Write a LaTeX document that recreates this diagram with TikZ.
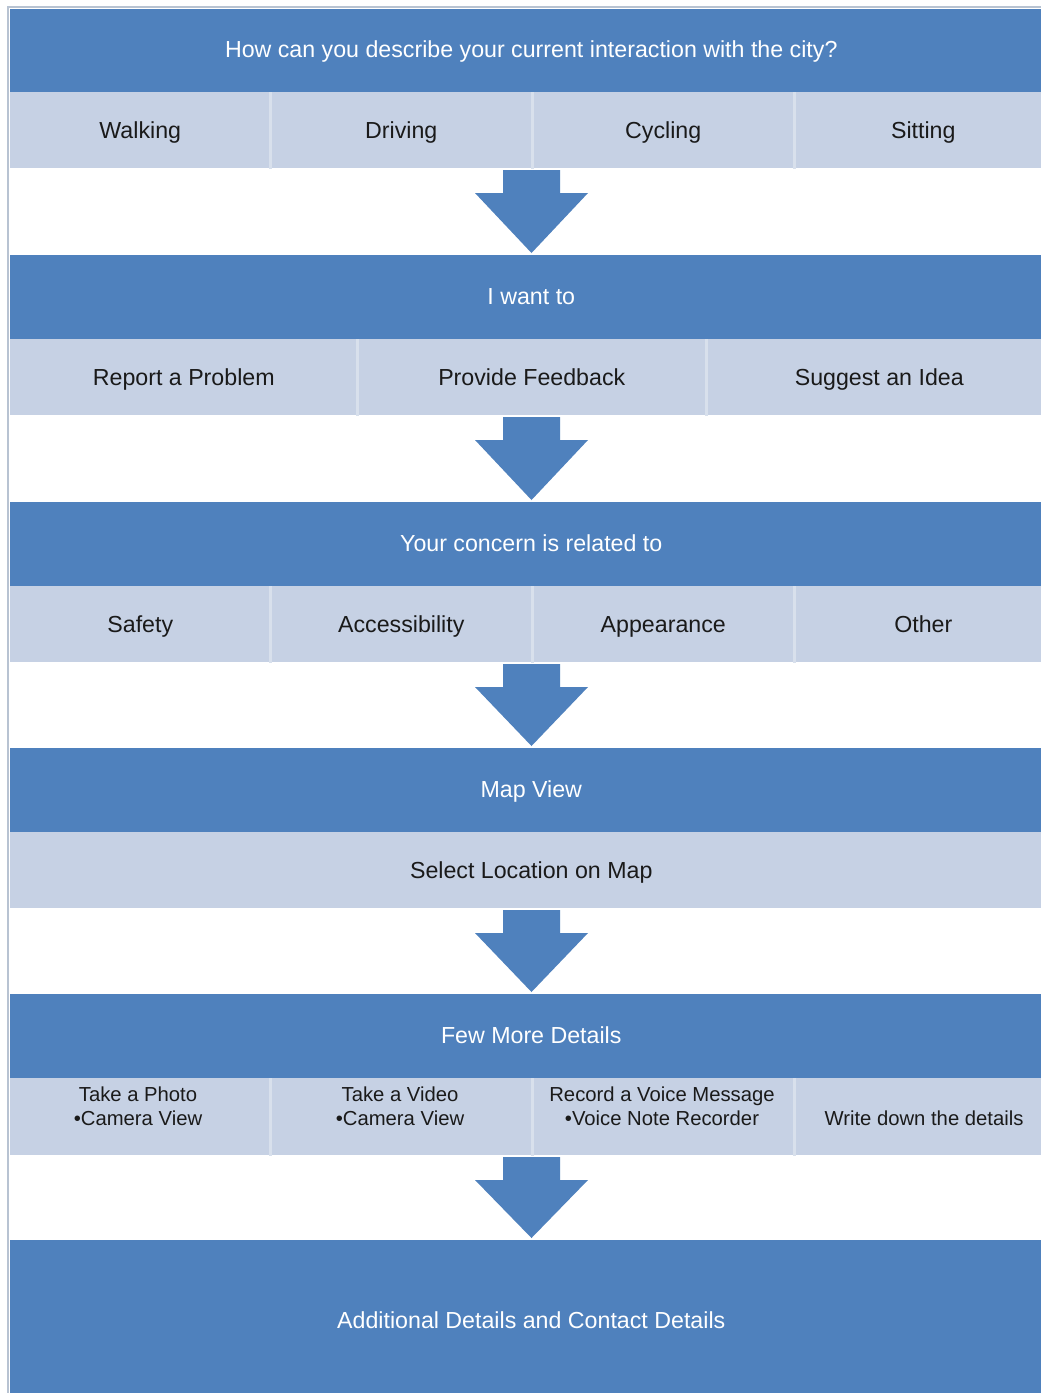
\documentclass[tikz,border=0pt]{standalone}
\usepackage{fontspec}
\setmainfont{Liberation Sans}
\definecolor{bandblue}{HTML}{4F81BD}
\definecolor{celllight}{HTML}{C6D1E4}
\definecolor{sepcol}{HTML}{D8E0EC}
\definecolor{framecol}{HTML}{B8C3D2}
\definecolor{celltext}{HTML}{1A1A1A}
\begin{document}
\begin{tikzpicture}[x=0.75pt,y=-0.75pt,
  band/.style={fill=bandblue, text=white, inner sep=0pt, anchor=north west,
    text height=14pt, text depth=3.6pt,
    minimum width=1042*0.75pt, font=\fontsize{17.4}{21}\selectfont},
  cell/.style={fill=celllight, text=celltext, inner sep=0pt, anchor=north west,
    text height=16.5pt, text depth=3.6pt,
    minimum height=76*0.75pt, font=\fontsize{17.4}{21}\selectfont},
  small/.style={text=celltext, inner sep=0pt, align=center, font=\fontsize{15.2}{18}\selectfont},
  sep/.style={draw=sepcol, line width=2pt},
  flowarrow/.style={fill=bandblue}
]
\useasboundingbox (0,0) rectangle (1041,1393);
\clip (0,0) rectangle (1041,1393);
\fill[white] (0,0) rectangle (1041,1393);

% frame
\draw[framecol, line width=1.5pt] (8,1400) -- (8,7) -- (1045,7);

% ---- Block 1
\node[band, minimum height=83*0.75pt] (b1) at (10,9) {How can you describe your current interaction with the city?};
\node[cell, minimum width=260*0.75pt] (c11) at (10,92) {Walking};
\node[cell, minimum width=262*0.75pt] (c12) at (270,92) {Driving};
\node[cell, minimum width=262*0.75pt] (c13) at (532,92) {Cycling};
\node[cell, minimum width=258*0.75pt] (c14) at (794,92) {Sitting};
\draw[sep] (c11.north east) -- (c11.south east);
\draw[sep] (c12.north east) -- (c12.south east);
\draw[sep] (c13.north east) -- (c13.south east);

% ---- Block 2
\node[band, minimum height=84*0.75pt] (b2) at (10,255) {I want to};
\node[cell, minimum width=347*0.75pt] (c21) at (10,339) {Report a Problem};
\node[cell, minimum width=349*0.75pt] (c22) at (357,339) {Provide Feedback};
\node[cell, minimum width=346*0.75pt] (c23) at (706,339) {Suggest an Idea};
\draw[sep] (c21.north east) -- (c21.south east);
\draw[sep] (c22.north east) -- (c22.south east);

% ---- Block 3
\node[band, minimum height=84*0.75pt] (b3) at (10,502) {Your concern is related to};
\node[cell, minimum width=260*0.75pt] (c31) at (10,586) {Safety};
\node[cell, minimum width=262*0.75pt] (c32) at (270,586) {Accessibility};
\node[cell, minimum width=262*0.75pt] (c33) at (532,586) {Appearance};
\node[cell, minimum width=258*0.75pt] (c34) at (794,586) {Other};
\draw[sep] (c31.north east) -- (c31.south east);
\draw[sep] (c32.north east) -- (c32.south east);
\draw[sep] (c33.north east) -- (c33.south east);

% ---- Block 4
\node[band, minimum height=84*0.75pt] (b4) at (10,748) {Map View};
\node[cell, minimum width=1042*0.75pt] (c41) at (10,832) {Select Location on Map};

% ---- Block 5
\node[band, minimum height=84*0.75pt] (b5) at (10,994) {Few More Details};
\node[cell, minimum width=260*0.75pt, minimum height=77*0.75pt] (c51) at (10,1078) {};
\node[cell, minimum width=262*0.75pt, minimum height=77*0.75pt] (c52) at (270,1078) {};
\node[cell, minimum width=262*0.75pt, minimum height=77*0.75pt] (c53) at (532,1078) {};
\node[cell, minimum width=258*0.75pt, minimum height=77*0.75pt] (c54) at (794,1078) {};
\draw[sep] (c51.north east) -- (c51.south east);
\draw[sep] (c52.north east) -- (c52.south east);
\draw[sep] (c53.north east) -- (c53.south east);
\node[small] (t51) at (138,1106) {Take a Photo\\•Camera View};
\node[small] (t52) at (400,1106) {Take a Video\\•Camera View};
\node[small] (t53) at (662,1106) {Record a Voice Message\\•Voice Note Recorder};
\node[small] (t54) at (924,1118) {Write down the details};

% ---- Block 6
\node[band, minimum height=162*0.75pt] (b6) at (10,1240) {Additional Details and Contact Details};

% ---- Arrows between blocks
\foreach \t/\b in {168/255, 415/502, 662/748, 908/994, 1155/1240}{
  \fill[flowarrow] (503,\t+2) -- (560,\t+2) -- (560,\t+25) -- (588,\t+25)
     -- (531.5,\b-2) -- (475,\t+25) -- (503,\t+25) -- cycle;
}
\end{tikzpicture}
\end{document}
